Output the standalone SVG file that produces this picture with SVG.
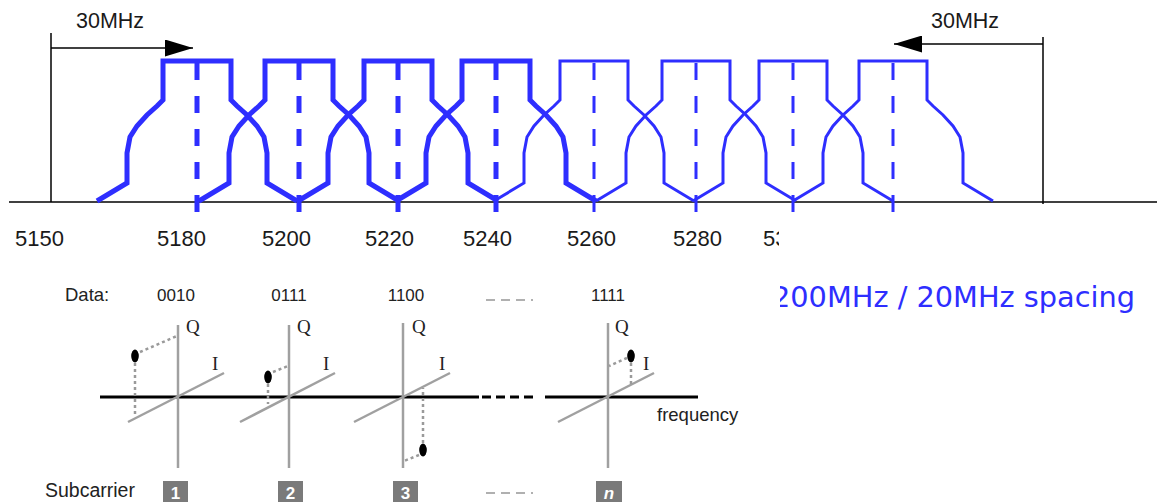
<svg xmlns="http://www.w3.org/2000/svg" xmlns:xlink="http://www.w3.org/1999/xlink" width="1157" height="502" viewBox="0 0 1157 502">
  <style>
    .axis { stroke: #000; stroke-width: 1.5; fill: none; }
    .mask { fill: none; stroke: #2e2eff; stroke-linejoin: miter; }
    .thick { stroke-width: 5; }
    .thin { stroke-width: 3; }
    .ctr { stroke: #2e2eff; stroke-dasharray: 17 16; }
    .freq { font-family: "Liberation Sans", Arial, sans-serif; font-size: 22px; fill: #1a1a1a; }
    .guard { font-family: "Liberation Sans", Arial, sans-serif; font-size: 21.5px; fill: #1a1a1a; }
    .blue { font-family: "DejaVu Sans", sans-serif; font-size: 28.8px; fill: #2e2eff; }
    .lbl { font-family: "Liberation Sans", Arial, sans-serif; font-size: 17px; fill: #222; }
    .lbl-l { font-family: "Liberation Sans", Arial, sans-serif; font-size: 18.5px; fill: #222; }
    .sub { font-family: "Liberation Sans", Arial, sans-serif; font-size: 19.5px; fill: #222; }
    .ser { font-family: "Liberation Serif", "Times New Roman", serif; font-size: 19px; fill: #222; }
    .gax { stroke: #a0a0a0; stroke-width: 2.5; fill: none; }
    .proj { stroke: #9a9a9a; stroke-width: 2.5; stroke-dasharray: 3 3; fill: none; }
    .dot { fill: #000; }
    .box { fill: #7a7a7a; }
    .num { font-family: "Liberation Sans", Arial, sans-serif; font-size: 17px; font-weight: bold; fill: #fff; text-anchor: middle; }
    .num-i { font-style: italic; }
    .gdash { stroke: #b0b0b0; stroke-width: 2; stroke-dasharray: 9 6; }
  </style>
  <defs>
    <!-- spectral mask of one 20 MHz channel, centred on x = 0 -->
    <path id="chmask" d="M-100,201 L-70,183 L-70,153 L-67,137 L-60,126 L-50,115 L-40,106 L-34,100 L-34,61 L34,61 L34,100 L40,106 L50,115 L60,126 L67,137 L70,153 L70,183 L100,201"/>
    <marker id="head" viewBox="0 0 28 17" refX="28" refY="8.5" markerWidth="28" markerHeight="17" markerUnits="userSpaceOnUse" orient="auto">
      <path d="M0,0 L28,8.5 L0,17 Z" fill="#000"/>
    </marker>
    <clipPath id="clipLeft"><rect x="0" y="210" width="779" height="60"/></clipPath>
    <clipPath id="clipRight"><rect x="780" y="270" width="377" height="60"/></clipPath>
  </defs>

  <!-- band axis and edges -->
  <g id="band-axis">
    <line class="axis" x1="9" y1="202" x2="1157" y2="202"/>
    <line class="axis" x1="51" y1="33" x2="51" y2="202"/>
    <line class="axis" x1="1043" y1="37" x2="1043" y2="204"/>
  </g>

  <!-- guard band arrows -->
  <g id="connectors">
    <line class="axis" x1="51" y1="48" x2="193" y2="48" marker-end="url(#head)"/>
    <line class="axis" x1="1043" y1="44" x2="894" y2="44" marker-end="url(#head)"/>
  </g>
  <g id="guard-labels">
    <text class="guard" x="76" y="28">30MHz</text>
    <text class="guard" x="931" y="28">30MHz</text>
  </g>

  <!-- channels -->
  <g id="ch36" class="mask thick"><use xlink:href="#chmask" href="#chmask" x="197"/><line class="ctr thick" x1="197" y1="63" x2="197" y2="212"/></g>
  <g id="ch40" class="mask thick"><use xlink:href="#chmask" href="#chmask" x="299"/><line class="ctr thick" x1="299" y1="63" x2="299" y2="212"/></g>
  <g id="ch44" class="mask thick"><use xlink:href="#chmask" href="#chmask" x="398"/><line class="ctr thick" x1="398" y1="63" x2="398" y2="212"/></g>
  <g id="ch48" class="mask thick"><use xlink:href="#chmask" href="#chmask" x="496"/><line class="ctr thick" x1="496" y1="63" x2="496" y2="212"/></g>
  <g id="ch52" class="mask thin"><use xlink:href="#chmask" href="#chmask" x="594"/><line class="ctr thin" x1="594" y1="63" x2="594" y2="212"/></g>
  <g id="ch56" class="mask thin"><use xlink:href="#chmask" href="#chmask" x="696"/><line class="ctr thin" x1="696" y1="63" x2="696" y2="212"/></g>
  <g id="ch60" class="mask thin"><use xlink:href="#chmask" href="#chmask" x="793"/><line class="ctr thin" x1="793" y1="63" x2="793" y2="212"/></g>
  <g id="ch64" class="mask thin"><use xlink:href="#chmask" href="#chmask" x="893"/><line class="ctr thin" x1="893" y1="63" x2="893" y2="212"/></g>

  <!-- frequency scale -->
  <g id="scale">
    <text class="freq" x="15" y="246">5150</text>
    <text class="freq" x="157" y="246">5180</text>
    <text class="freq" x="262" y="246">5200</text>
    <text class="freq" x="365" y="246">5220</text>
    <text class="freq" x="463" y="246">5240</text>
    <text class="freq" x="567" y="246">5260</text>
    <text class="freq" x="673" y="246">5280</text>
    <text class="freq" x="763" y="246" clip-path="url(#clipLeft)">5300</text>
  </g>
  <g id="spacing-note">
    <text class="blue" x="772" y="307" textLength="363" clip-path="url(#clipRight)">200MHz / 20MHz spacing</text>
  </g>

  <!-- OFDM subcarriers -->
  <g id="ofdm-labels">
    <text class="lbl-l" x="65" y="301">Data:</text>
    <text class="lbl" x="176" y="301" text-anchor="middle">0010</text>
    <text class="lbl" x="289" y="301" text-anchor="middle">0111</text>
    <text class="lbl" x="406" y="301" text-anchor="middle">1100</text>
    <text class="lbl" x="608" y="301" text-anchor="middle">1111</text>
    <line class="gdash" x1="486" y1="300" x2="533" y2="300"/>
    <text class="sub" x="45" y="497">Subcarrier</text>
    <line class="gdash" x1="486" y1="493" x2="533" y2="493"/>
    <text class="lbl-l" x="657" y="421">frequency</text>
  </g>

  <g id="freq-axis">
    <line x1="100" y1="397" x2="479" y2="397" stroke="#000" stroke-width="3"/>
    <line x1="482" y1="397" x2="534" y2="397" stroke="#000" stroke-width="3" stroke-dasharray="9 5"/>
    <line x1="545" y1="397" x2="698" y2="397" stroke="#000" stroke-width="3"/>
  </g>

  <g id="sc1">
    <line class="gax" x1="178" y1="325" x2="178" y2="468"/>
    <line class="gax" x1="128" y1="422" x2="224" y2="373"/>
    <text class="ser" x="186" y="333">Q</text>
    <text class="ser" x="212" y="370">I</text>
    <line class="proj" x1="140" y1="352" x2="177" y2="336"/>
    <line class="proj" x1="135" y1="363" x2="135" y2="416"/>
    <ellipse class="dot" cx="135" cy="356" rx="3.8" ry="6.5"/>
    <rect class="box" x="163" y="481" width="25" height="21"/>
    <text class="num" x="175.5" y="499">1</text>
  </g>

  <g id="sc2">
    <line class="gax" x1="289" y1="325" x2="289" y2="468"/>
    <line class="gax" x1="240" y1="422" x2="335" y2="373"/>
    <text class="ser" x="297" y="333">Q</text>
    <text class="ser" x="323" y="370">I</text>
    <line class="proj" x1="273" y1="372" x2="288" y2="366"/>
    <line class="proj" x1="268" y1="384" x2="268" y2="404"/>
    <ellipse class="dot" cx="268" cy="377" rx="3.8" ry="6.5"/>
    <rect class="box" x="278" y="481" width="25" height="21"/>
    <text class="num" x="290.5" y="499">2</text>
  </g>

  <g id="sc3">
    <line class="gax" x1="403" y1="323" x2="403" y2="468"/>
    <line class="gax" x1="354" y1="422" x2="450" y2="373"/>
    <text class="ser" x="412" y="333">Q</text>
    <text class="ser" x="439" y="370">I</text>
    <line class="proj" x1="423" y1="443" x2="423" y2="388"/>
    <line class="proj" x1="419" y1="455" x2="404" y2="461"/>
    <ellipse class="dot" cx="423" cy="450" rx="3.8" ry="6.5"/>
    <rect class="box" x="393" y="481" width="25" height="21"/>
    <text class="num" x="405.5" y="499">3</text>
  </g>

  <g id="scn">
    <line class="gax" x1="608" y1="323" x2="608" y2="468"/>
    <line class="gax" x1="558" y1="422" x2="654" y2="373"/>
    <text class="ser" x="615" y="333">Q</text>
    <text class="ser" x="643" y="370">I</text>
    <line class="proj" x1="627" y1="358" x2="609" y2="366"/>
    <line class="proj" x1="631" y1="363" x2="631" y2="385"/>
    <ellipse class="dot" cx="631" cy="356" rx="3.8" ry="6.5"/>
    <rect class="box" x="596" y="481" width="26" height="21"/>
    <text class="num num-i" x="609" y="499">n</text>
  </g>
</svg>
